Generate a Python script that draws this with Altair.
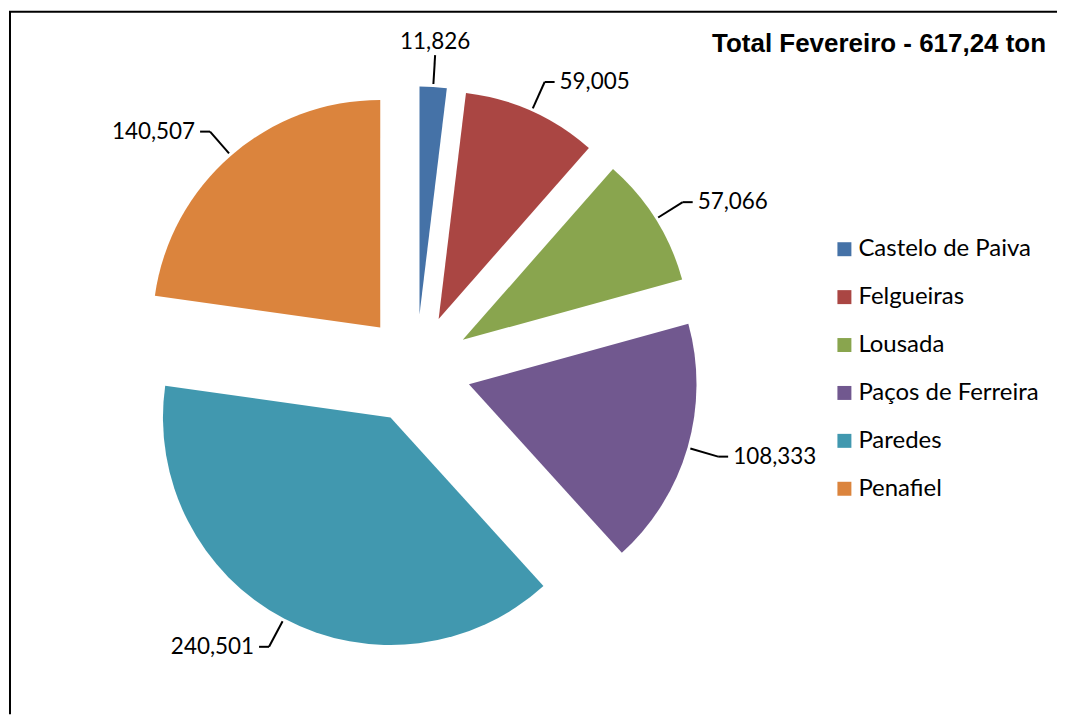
import altair as alt
import pandas as pd

# ---- data ----
categories = ["Castelo de Paiva", "Felgueiras", "Lousada", "Paços de Ferreira", "Paredes", "Penafiel"]
values = [11.826, 59.005, 57.066, 108.333, 240.501, 140.507]
colors = ["#4572A7", "#AA4643", "#89A54E", "#71588F", "#4198AF", "#DB843D"]
title_text = "Total Fevereiro - 617,24 ton"

df = pd.DataFrame({"cat": categories, "v": values, "idx": list(range(len(categories)))})

# ---- layout ----
W, H = 1050, 707
CX, CY = 408, 361      # pie centre (view coords)
D = 55                 # explosion distance
R = 228                # radius
L1 = R + 3
L2 = R + 32
HOOK = 10

base = (
    alt.Chart(df)
    .transform_joinaggregate(total="sum(v)")
    .transform_window(cum="sum(v)", sort=[alt.SortField("idx", order="ascending")], frame=[None, 0])
    .transform_calculate(mid="(datum.cum - datum.v/2) / datum.total * 2 * PI")
    .transform_calculate(sx="sin(datum.mid)", sy="-cos(datum.mid)")
    .transform_calculate(ox=f"{CX} + {D}*datum.sx", oy=f"{CY} + {D}*datum.sy")
    .transform_calculate(
        x1=f"datum.ox + {L1}*datum.sx", y1=f"datum.oy + {L1}*datum.sy",
        x2=f"datum.ox + {L2}*datum.sx", y2=f"datum.oy + {L2}*datum.sy",
        side="datum.sx > 0.3 ? 1 : (datum.sx < -0.3 ? -1 : 0)",
        label="replace(format(datum.v, '.3f'), '.', ',')",
    )
    .transform_calculate(x3=f"datum.x2 + {HOOK}*datum.side")
)

arcs = base.mark_arc(radius=R).encode(
    theta=alt.Theta("v:Q", stack=True),
    order=alt.Order("idx:Q"),
    x=alt.X("ox:Q", scale=None, axis=None),
    y=alt.Y("oy:Q", scale=None, axis=None),
    color=alt.Color(
        "cat:N",
        scale=alt.Scale(domain=categories, range=colors),
        sort=categories,
        legend=alt.Legend(
            title=None, orient="none", legendX=825, legendY=229,
            symbolType="square", symbolSize=196, symbolStrokeWidth=0,
            labelFont="Lato", labelFontSize=24, labelColor="black",
            labelOffset=2, labelLimit=0, rowPadding=24, padding=0,
        ),
    ),
)

lead = base.mark_rule(color="black", strokeWidth=2).encode(
    x=alt.X("x1:Q", scale=None, axis=None),
    y=alt.Y("y1:Q", scale=None, axis=None),
    x2="x2:Q",
    y2="y2:Q",
)

hook = base.transform_filter("datum.side != 0").mark_rule(color="black", strokeWidth=2).encode(
    x=alt.X("x2:Q", scale=None, axis=None),
    y=alt.Y("y2:Q", scale=None, axis=None),
    x2="x3:Q",
)

txt = dict(font="Lato", fontSize=22.5, color="black")
lab_r = base.transform_filter("datum.side == 1").mark_text(align="left", baseline="middle", dx=5, **txt).encode(
    x=alt.X("x3:Q", scale=None, axis=None), y=alt.Y("y2:Q", scale=None, axis=None), text="label:N")
lab_l = base.transform_filter("datum.side == -1").mark_text(align="right", baseline="middle", dx=-5, **txt).encode(
    x=alt.X("x3:Q", scale=None, axis=None), y=alt.Y("y2:Q", scale=None, axis=None), text="label:N")
lab_c = base.transform_filter("datum.side == 0").mark_text(align="center", baseline="bottom", dy=-1, **txt).encode(
    x=alt.X("x2:Q", scale=None, axis=None), y=alt.Y("y2:Q", scale=None, axis=None), text="label:N")

title = alt.Chart(pd.DataFrame({"t": [title_text]})).mark_text(
    align="right", baseline="middle", font="Liberation Sans", fontSize=26, fontWeight="bold", color="black"
).encode(text="t:N", x=alt.value(1039), y=alt.value(35))

frame_df = pd.DataFrame({"a": [0]})
border_top = alt.Chart(frame_df).mark_rule(color="black", strokeWidth=2).encode(
    x=alt.value(0), x2=alt.value(W), y=alt.value(3))
border_left = alt.Chart(frame_df).mark_rule(color="black", strokeWidth=2).encode(
    x=alt.value(1), y=alt.value(3), y2=alt.value(H))

chart = alt.layer(
    border_top, border_left, arcs, lead, hook, lab_r, lab_l, lab_c, title
).properties(width=W, height=H, padding=0).configure_view(strokeWidth=0)

chart.save("out.html", embed_options={"renderer": "svg", "actions": False})
